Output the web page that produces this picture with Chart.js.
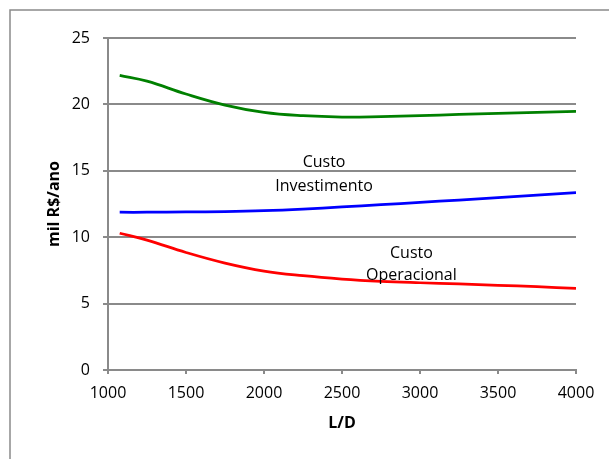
<!DOCTYPE html>
<html>
<head>
<meta charset="utf-8">
<script src="https://cdn.jsdelivr.net/npm/chart.js@4"></script>
<style>
  html, body { margin: 0; padding: 0; background: #fff; }
  #wrap { width: 609px; height: 459px; }
</style>
</head>
<body>
<div id="wrap"><canvas id="c" width="609" height="459"></canvas></div>
<script>
// L/D ratios at which the costs were evaluated
const ratiosLD = [1075, 1250, 1500, 1750, 2000, 2250, 2500, 2750, 3000, 3250, 3500, 3750, 4000];

// Annual costs in thousand R$
const custoTotal        = [22.18, 21.75, 20.78, 19.95, 19.4, 19.15, 19.05, 19.08, 19.15, 19.25, 19.32, 19.4, 19.47];
const custoInvestimento = [11.88, 11.88, 11.9, 11.93, 12.0, 12.12, 12.28, 12.45, 12.62, 12.8, 12.98, 13.17, 13.35];
const custoOperacional  = [10.3, 9.78, 8.85, 8.05, 7.45, 7.1, 6.85, 6.68, 6.57, 6.48, 6.38, 6.27, 6.15];

// Axis ticks
const xTicks = [1000, 1500, 2000, 2500, 3000, 3500, 4000];
const yTicks = [0, 5, 10, 15, 20, 25];

// Curve captions, placed in data coordinates
const captions = [
  { lines: ['Custo', 'Investimento'], x: 2385, y: [15.6, 13.8] },
  { lines: ['Custo', 'Operacional'],  x: 2945, y: [8.75, 7.15] }
];

const FONT = "'Open Sans', 'DejaVu Sans', sans-serif";
const GRAY = '#8a8a8a';

const toPts = (vals) => vals.map((v, i) => ({ x: ratiosLD[i], y: v }));

// Outer frame of the chart block
const framePlugin = {
  id: 'frame',
  beforeDraw(chart) {
    const ctx = chart.ctx;
    ctx.save();
    ctx.fillStyle = '#fff';
    ctx.fillRect(0, 0, chart.width, chart.height);
    ctx.strokeStyle = GRAY;
    ctx.lineWidth = 1.5;
    ctx.strokeRect(10, 10, chart.width + 20, chart.height + 20);
    ctx.restore();
  }
};

// Text captions next to the curves
const captionPlugin = {
  id: 'captions',
  afterDatasetsDraw(chart) {
    const { ctx, scales } = chart;
    ctx.save();
    ctx.font = '16px ' + FONT;
    ctx.fillStyle = '#000';
    ctx.textAlign = 'center';
    ctx.textBaseline = 'middle';
    captions.forEach(c => {
      const px = scales.x.getPixelForValue(c.x);
      c.lines.forEach((t, i) => ctx.fillText(t, px, scales.y.getPixelForValue(c.y[i])));
    });
    ctx.restore();
  }
};

new Chart(document.getElementById('c'), {
  type: 'line',
  data: {
    datasets: [
      { label: 'Custo Total', data: toPts(custoTotal), borderColor: '#008000' },
      { label: 'Custo Investimento', data: toPts(custoInvestimento), borderColor: '#0000ff' },
      { label: 'Custo Operacional', data: toPts(custoOperacional), borderColor: '#ff0000' }
    ]
  },
  options: {
    responsive: false,
    animation: false,
    devicePixelRatio: 1,
    layout: { padding: { left: 0, top: 38, right: 33, bottom: 0 } },
    elements: {
      line: { borderWidth: 2.75, tension: 0.4, fill: false },
      point: { radius: 0 }
    },
    plugins: { legend: { display: false }, tooltip: { enabled: false } },
    scales: {
      x: {
        type: 'linear',
        min: 1000, max: 4000,
        afterBuildTicks: (s) => { s.ticks = xTicks.map(v => ({ value: v })); },
        afterFit: (s) => { s.height = 89; },
        ticks: { color: '#000', font: { family: FONT, size: 16 }, padding: 9.4, maxRotation: 0, callback: (v) => String(v) },
        grid: { display: true, drawOnChartArea: false, drawTicks: true, tickLength: 4, color: GRAY, lineWidth: 2 },
        border: { display: true, color: GRAY, width: 2 },
        title: { display: true, text: 'L/D', color: '#000', font: { family: FONT, size: 16, weight: 'bold' }, padding: { top: 0, bottom: 26.4 } }
      },
      y: {
        type: 'linear',
        min: 0, max: 25,
        afterBuildTicks: (s) => { s.ticks = yTicks.map(v => ({ value: v })); },
        afterFit: (s) => { s.width = 108; },
        ticks: { color: '#000', font: { family: FONT, size: 16 }, padding: 13, callback: (v) => String(v) },
        grid: { display: true, drawOnChartArea: true, drawTicks: true, tickLength: 5, color: GRAY, lineWidth: 2 },
        border: { display: true, color: GRAY, width: 2 },
        title: { display: true, text: 'mil R$/ano', color: '#000', font: { family: FONT, size: 16, weight: 'bold' }, padding: { top: 44.8, bottom: 0 } }
      }
    }
  },
  plugins: [framePlugin, captionPlugin]
});
</script>
</body>
</html>
